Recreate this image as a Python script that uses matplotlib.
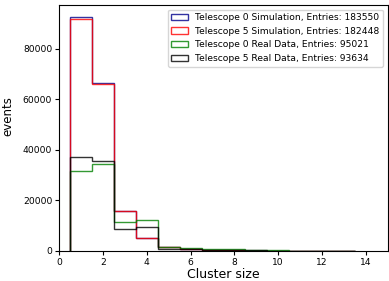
import matplotlib
matplotlib.use("Agg")
import matplotlib.pyplot as plt
import numpy as np

bin_edges = np.arange(0.5, 14.5, 1.0)
tel0_sim = [92400, 66500, 15700, 5260, 1500, 700, 350, 200, 120, 80, 50, 30, 20]
tel5_sim = [91600, 66000, 15700, 5260, 1550, 700, 350, 200, 120, 80, 50, 30, 20]
tel0_real = [31700, 34300, 11300, 12400, 1500, 1200, 900, 600, 400, 250, 150, 100, 60]
tel5_real = [37300, 35450, 8600, 9500, 900, 600, 500, 350, 200, 130, 80, 50, 30]
labels = ["Telescope 0 Simulation, Entries: 183550",
          "Telescope 5 Simulation, Entries: 182448",
          "Telescope 0 Real Data, Entries: 95021",
          "Telescope 5 Real Data, Entries: 93634"]
colors = ["darkblue", "red", "green", "black"]

centers = (bin_edges[:-1] + bin_edges[1:]) / 2

fig = plt.figure(figsize=(3.89, 2.81), dpi=100)
ax = fig.add_axes([0.152, 0.107, 0.845, 0.875])
for vals, lab, c in zip([tel0_sim, tel5_sim, tel0_real, tel5_real], labels, colors):
    ax.hist(centers, bins=bin_edges, weights=vals, histtype="step",
            color=c, alpha=0.8, linewidth=1.0, label=lab)
ax.set_xlim(0, 15)
ax.set_ylim(0, 97300)
ax.set_xticks(np.arange(0, 15, 2))
ax.tick_params(labelsize=6.6, length=3, pad=2)
ax.set_xlabel("Cluster size", fontsize=9, labelpad=1)
ax.set_ylabel("events", fontsize=8.5)
ax.yaxis.set_label_coords(-0.136, 0.55)
ax.legend(fontsize=6.6, loc="upper right", handlelength=1.8)
fig.savefig("out.png", dpi=100)
